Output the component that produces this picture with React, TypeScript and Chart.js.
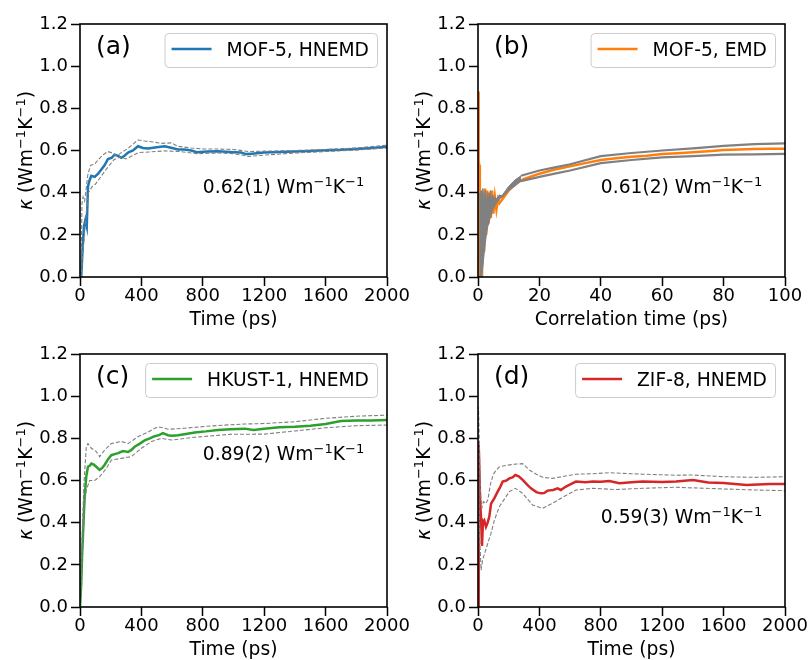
import React, { useEffect, useRef } from "react";
import { Chart, registerables } from "chart.js";

Chart.register(...registerables);

const FAMILY = "'DejaVu Sans', 'Liberation Sans', sans-serif";
const TEXT_SIZE = 18.7;
const TICK_SIZE = 18;
const LABEL_SIZE = 25;

// ---------- Panel (a): MOF-5, HNEMD ----------
const aMainX = [0, 8, 18, 26, 35, 44, 52, 63, 74, 96, 118, 139, 160, 182, 205, 226, 248, 269, 290, 313, 345, 378, 410, 443, 500, 552, 600, 638, 680, 725, 760, 830, 899, 1000, 1050, 1080, 1120, 1200, 1300, 1400, 1500, 1600, 1700, 1800, 1900, 2000];
const aMainY = [0, 0.0, 0.15, 0.24, 0.27, 0.24, 0.43, 0.46, 0.48, 0.475, 0.49, 0.51, 0.53, 0.56, 0.565, 0.58, 0.575, 0.565, 0.575, 0.59, 0.6, 0.62, 0.612, 0.61, 0.615, 0.62, 0.612, 0.605, 0.605, 0.6, 0.592, 0.595, 0.597, 0.592, 0.59, 0.583, 0.585, 0.59, 0.593, 0.595, 0.598, 0.601, 0.603, 0.607, 0.612, 0.618];
const aUpX = [0, 8, 13, 20, 30, 40, 52, 70, 96, 117, 150, 182, 204, 239, 269, 313, 345, 378, 421, 480, 530, 595, 638, 725, 812, 900, 1000, 1100, 1200, 1400, 1600, 1800, 2000];
const aUpY = [0, 0.1, 0.35, 0.38, 0.36, 0.42, 0.49, 0.53, 0.535, 0.555, 0.58, 0.595, 0.59, 0.574, 0.59, 0.61, 0.63, 0.65, 0.645, 0.64, 0.634, 0.636, 0.62, 0.612, 0.607, 0.607, 0.605, 0.595, 0.597, 0.6, 0.605, 0.612, 0.625];
const aLoX = [0, 8, 15, 26, 40, 55, 80, 100, 140, 180, 220, 260, 300, 340, 380, 450, 550, 650, 760, 900, 1000, 1100, 1200, 1400, 1600, 1800, 2000];
const aLoY = [0, 0.0, 0.1, 0.17, 0.3, 0.4, 0.43, 0.44, 0.48, 0.52, 0.555, 0.57, 0.56, 0.575, 0.59, 0.593, 0.598, 0.595, 0.585, 0.588, 0.585, 0.572, 0.578, 0.588, 0.595, 0.602, 0.612];

// ---------- Panel (b): MOF-5, EMD ----------
const bMainX = [0, 0.1, 0.2, 0.3, 0.45, 0.6, 0.8, 1.0, 1.3, 1.6, 2.0, 2.3, 2.7, 3.0, 3.4, 3.8, 4.2, 4.6, 5.0, 5.5, 6.0, 6.5, 7.0, 8.0, 9.0, 10, 12, 15, 20, 25, 30, 35, 40, 45, 50, 55, 60, 65, 70, 75, 80, 85, 90, 95, 100];
const bMainY = [0, 0.6, 0.88, 0.55, 0.53, 0.25, 0.4, 0.1, 0.0, 0.3, 0.12, 0.42, 0.2, 0.41, 0.25, 0.4, 0.28, 0.41, 0.3, 0.38, 0.32, 0.37, 0.35, 0.37, 0.39, 0.41, 0.44, 0.465, 0.49, 0.51, 0.525, 0.54, 0.555, 0.563, 0.57, 0.575, 0.583, 0.587, 0.592, 0.597, 0.602, 0.605, 0.607, 0.608, 0.608];
const bBandX = [0.4, 0.7, 1.0, 1.3, 1.6, 2.0, 2.4, 2.8, 3.2, 3.6, 4.0, 4.4, 4.8, 5.2, 5.6, 6.0, 6.5, 7.0, 7.5, 8.0, 9.0, 10, 12, 14];
const bBandHi = [0.4, 0.36, 0.41, 0.34, 0.42, 0.36, 0.41, 0.35, 0.4, 0.36, 0.41, 0.37, 0.39, 0.36, 0.38, 0.37, 0.38, 0.39, 0.385, 0.39, 0.41, 0.43, 0.46, 0.48];
const bBandLo = [0.0, 0.0, 0.0, 0.0, 0.05, 0.11, 0.16, 0.21, 0.24, 0.26, 0.28, 0.3, 0.32, 0.33, 0.34, 0.35, 0.36, 0.37, 0.375, 0.38, 0.395, 0.41, 0.43, 0.455];
const bSideX = [14, 20, 25, 30, 40, 50, 60, 70, 80, 90, 100];
const bUpY = [0.48, 0.505, 0.52, 0.535, 0.573, 0.588, 0.6, 0.61, 0.622, 0.63, 0.634];
const bLoY = [0.455, 0.475, 0.49, 0.505, 0.54, 0.555, 0.567, 0.573, 0.58, 0.582, 0.584];

// ---------- Panel (c): HKUST-1, HNEMD ----------
const cMainX = [0, 8, 14, 20, 30, 41, 52, 63, 74, 90, 106, 128, 145, 161, 182, 204, 226, 248, 280, 313, 335, 356, 390, 421, 455, 486, 515, 540, 573, 600, 638, 700, 747, 820, 899, 980, 1073, 1130, 1200, 1300, 1400, 1500, 1600, 1700, 1800, 1900, 2000];
const cMainY = [0, 0.11, 0.25, 0.35, 0.52, 0.62, 0.665, 0.67, 0.68, 0.675, 0.665, 0.65, 0.66, 0.675, 0.7, 0.72, 0.725, 0.73, 0.74, 0.735, 0.745, 0.76, 0.775, 0.79, 0.8, 0.81, 0.815, 0.825, 0.815, 0.812, 0.815, 0.822, 0.828, 0.833, 0.84, 0.843, 0.846, 0.84, 0.845, 0.852, 0.855, 0.86, 0.868, 0.882, 0.884, 0.885, 0.887];
const cUpX = [0, 8, 13, 26, 41, 52, 74, 106, 128, 161, 204, 269, 313, 378, 443, 508, 540, 573, 682, 856, 1073, 1200, 1400, 1600, 1800, 2000];
const cUpY = [0, 0.15, 0.32, 0.59, 0.76, 0.775, 0.753, 0.737, 0.713, 0.745, 0.775, 0.785, 0.775, 0.808, 0.83, 0.855, 0.85, 0.843, 0.848, 0.859, 0.868, 0.87, 0.879, 0.895, 0.905, 0.91];
const cLoX = [0, 8, 13, 26, 41, 63, 96, 128, 172, 204, 269, 334, 400, 465, 530, 595, 747, 977, 1200, 1400, 1600, 1800, 2000];
const cLoY = [0, 0.08, 0.24, 0.46, 0.555, 0.6, 0.6, 0.618, 0.658, 0.697, 0.705, 0.713, 0.753, 0.785, 0.8, 0.792, 0.805, 0.819, 0.82, 0.835, 0.85, 0.86, 0.863];

// ---------- Panel (d): ZIF-8, HNEMD ----------
const dMainX = [0, 3, 6, 10, 14, 20, 26, 32, 41, 52, 63, 74, 85, 106, 128, 145, 161, 185, 204, 225, 243, 265, 291, 320, 345, 380, 410, 430, 453, 490, 518, 540, 570, 595, 638, 700, 747, 800, 856, 921, 1000, 1073, 1200, 1290, 1400, 1500, 1600, 1750, 1900, 2000];
const dMainY = [0, 0.55, 0.77, 0.62, 0.5, 0.42, 0.29, 0.4, 0.41, 0.38, 0.4, 0.43, 0.49, 0.515, 0.547, 0.57, 0.595, 0.6, 0.61, 0.615, 0.626, 0.62, 0.603, 0.58, 0.563, 0.545, 0.539, 0.54, 0.552, 0.555, 0.563, 0.555, 0.57, 0.579, 0.595, 0.592, 0.595, 0.594, 0.598, 0.587, 0.592, 0.595, 0.593, 0.595, 0.602, 0.59, 0.588, 0.579, 0.583, 0.583];
const dUpX = [0, 3, 8, 15, 25, 35, 50, 65, 80, 100, 120, 139, 204, 250, 291, 334, 380, 421, 486, 560, 638, 750, 856, 1000, 1073, 1290, 1400, 1600, 1800, 2000];
const dUpY = [0, 0.95, 0.8, 0.55, 0.47, 0.5, 0.49, 0.51, 0.58, 0.63, 0.65, 0.665, 0.674, 0.678, 0.68, 0.65, 0.63, 0.615, 0.61, 0.62, 0.63, 0.632, 0.637, 0.632, 0.63, 0.625, 0.626, 0.618, 0.615, 0.618];
const dLoX = [0, 4, 10, 20, 30, 63, 85, 106, 139, 204, 243, 291, 356, 421, 486, 551, 638, 747, 899, 1073, 1290, 1400, 1600, 1800, 2000];
const dLoY = [0, 0.6, 0.35, 0.175, 0.223, 0.3, 0.35, 0.41, 0.476, 0.547, 0.563, 0.539, 0.484, 0.468, 0.492, 0.52, 0.555, 0.563, 0.557, 0.563, 0.568, 0.565, 0.56, 0.555, 0.552];

// ---------- Axis settings & text ----------
const yTicks = [0, 0.2, 0.4, 0.6, 0.8, 1.0, 1.2];
const timeTicks = [0, 400, 800, 1200, 1600, 2000];
const corrTicks = [0, 20, 40, 60, 80, 100];
const panelLabels = ["(a)", "(b)", "(c)", "(d)"];
const legendLabels = ["MOF-5, HNEMD", "MOF-5, EMD", "HKUST-1, HNEMD", "ZIF-8, HNEMD"];
const kappaValues = ["0.62(1)", "0.61(2)", "0.89(2)", "0.59(3)"];
const xTitles = ["Time (ps)", "Correlation time (ps)", "Time (ps)", "Time (ps)"];

const BLUE = "#1f77b4";
const ORANGE = "#ff7f0e";
const GREEN = "#2ca02c";
const RED = "#d62728";
const GRAY = "#808080";

type Seg = { t: string; sup?: boolean; it?: boolean };

function pts(xs: number[], ys: number[]) {
  return xs.map((x, i) => ({ x, y: ys[i] }));
}

function segFont(s: Seg, size: number) {
  return `${s.it ? "italic " : ""}${s.sup ? size * 0.7 : size}px ${FAMILY}`;
}
function richWidth(ctx: CanvasRenderingContext2D, segs: Seg[], size: number) {
  let w = 0;
  for (const s of segs) {
    ctx.font = segFont(s, size);
    w += ctx.measureText(s.t).width;
  }
  return w;
}
function drawRich(ctx: CanvasRenderingContext2D, segs: Seg[], x: number, y: number, size: number) {
  let cx = x;
  ctx.textAlign = "left";
  ctx.textBaseline = "alphabetic";
  for (const s of segs) {
    ctx.font = segFont(s, size);
    ctx.fillText(s.t, cx, s.sup ? y - size * 0.39 : y);
    cx += ctx.measureText(s.t).width;
  }
}

const unitSegs: Seg[] = [{ t: "Wm" }, { t: "\u22121", sup: true }, { t: "K" }, { t: "\u22121", sup: true }];
const yTitleSegs: Seg[] = [{ t: "\u03ba", it: true }, { t: " (Wm" }, { t: "\u22121", sup: true }, { t: "K" }, { t: "\u22121", sup: true }, { t: ")" }];

type Spec = {
  idx: number;
  xMax: number;
  xTicks: number[];
  color: string;
  annotBase: number;
  datasets: any[];
  padRight: number;
};

function makeDeco(spec: Spec) {
  return {
    id: "deco" + spec.idx,
    afterDraw(chart: any) {
      const ctx: CanvasRenderingContext2D = chart.ctx;
      const ca = chart.chartArea;
      ctx.save();
      // frame
      ctx.strokeStyle = "#000";
      ctx.lineWidth = 1.6;
      ctx.strokeRect(ca.left, ca.top, ca.right - ca.left, ca.bottom - ca.top);
      ctx.fillStyle = "#000";
      // panel label
      ctx.font = `${LABEL_SIZE}px ${FAMILY}`;
      ctx.textAlign = "left";
      ctx.textBaseline = "alphabetic";
      ctx.fillText(panelLabels[spec.idx], ca.left + 16, ca.top + 30);
      // legend
      ctx.font = `${TEXT_SIZE}px ${FAMILY}`;
      const tw = ctx.measureText(legendLabels[spec.idx]).width;
      const w = 7 + 40 + 15 + tw + 8;
      const h = 34;
      const x1 = ca.right - 10 - w;
      const y1 = ca.top + 9;
      ctx.beginPath();
      (ctx as any).roundRect(x1 + 0.5, y1 + 0.5, w, h, 4);
      ctx.fillStyle = "rgba(255,255,255,0.8)";
      ctx.fill();
      ctx.strokeStyle = "#cccccc";
      ctx.lineWidth = 1;
      ctx.stroke();
      ctx.beginPath();
      ctx.moveTo(x1 + 7, y1 + 16);
      ctx.lineTo(x1 + 47, y1 + 16);
      ctx.strokeStyle = spec.color;
      ctx.lineWidth = 2.5;
      ctx.stroke();
      ctx.fillStyle = "#000";
      ctx.fillText(legendLabels[spec.idx], x1 + 62, y1 + 22.5);
      // annotation
      const annot: Seg[] = [{ t: kappaValues[spec.idx] + " " }, ...unitSegs];
      const ax = ca.left + 0.4 * (ca.right - ca.left);
      drawRich(ctx, annot, ax, ca.bottom - spec.annotBase, TEXT_SIZE);
      // x title
      ctx.font = `${TEXT_SIZE}px ${FAMILY}`;
      ctx.textAlign = "center";
      ctx.fillText(xTitles[spec.idx], (ca.left + ca.right) / 2, ca.bottom + 48);
      // y title
      const yw = richWidth(ctx, yTitleSegs, TEXT_SIZE);
      ctx.translate(ca.left - 48, (ca.top + ca.bottom) / 2);
      ctx.rotate(-Math.PI / 2);
      drawRich(ctx, yTitleSegs, -yw / 2, 0, TEXT_SIZE);
      ctx.restore();
    },
  };
}

function mainLine(data: any[], color: string) {
  return { data, borderColor: color, borderWidth: 2.5, pointRadius: 0, fill: false };
}
function dashLine(data: any[]) {
  return { data, borderColor: GRAY, borderWidth: 1.1, borderDash: [4, 2], pointRadius: 0, fill: false };
}
function grayLine(data: any[]) {
  return { data, borderColor: GRAY, borderWidth: 2.2, pointRadius: 0, fill: false };
}

function makeConfig(spec: Spec) {
  return {
    type: "line",
    data: { datasets: spec.datasets },
    options: {
      animation: false,
      responsive: false,
      maintainAspectRatio: false,
      events: [],
      layout: { padding: { top: 24, right: spec.padRight, left: 0, bottom: 0 } },
      plugins: { legend: { display: false }, tooltip: { enabled: false } },
      elements: { line: { tension: 0 }, point: { radius: 0 } },
      scales: {
        x: {
          type: "linear",
          min: 0,
          max: spec.xMax,
          afterBuildTicks: (s: any) => {
            s.ticks = spec.xTicks.map((v) => ({ value: v }));
          },
          afterFit: (s: any) => {
            s.height = 53;
          },
          ticks: {
            color: "#000",
            font: { family: FAMILY, size: TICK_SIZE },
            padding: 0,
            maxRotation: 0,
            autoSkip: false,
            callback: (v: any) => String(v),
          },
          grid: { drawOnChartArea: false, drawTicks: true, tickLength: 9, tickWidth: 1.5, tickColor: "#000" },
          border: { display: false },
        },
        y: {
          type: "linear",
          min: 0,
          max: 1.2,
          afterBuildTicks: (s: any) => {
            s.ticks = yTicks.map((v) => ({ value: v }));
          },
          afterFit: (s: any) => {
            s.width = 80;
          },
          ticks: {
            color: "#000",
            font: { family: FAMILY, size: TICK_SIZE },
            padding: 3,
            autoSkip: false,
            callback: (v: any) => Number(v).toFixed(1),
          },
          grid: { drawOnChartArea: false, drawTicks: true, tickLength: 9, tickWidth: 1.5, tickColor: "#000" },
          border: { display: false },
        },
      },
    },
    plugins: [makeDeco(spec)],
  };
}

const specs: Spec[] = [
  {
    idx: 0,
    xMax: 2000,
    xTicks: timeTicks,
    color: BLUE,
    annotBase: 84,
    padRight: 33,
    datasets: [dashLine(pts(aUpX, aUpY)), dashLine(pts(aLoX, aLoY)), mainLine(pts(aMainX, aMainY), BLUE)],
  },
  {
    idx: 1,
    xMax: 100,
    xTicks: corrTicks,
    color: ORANGE,
    annotBase: 84,
    padRight: 24,
    datasets: [
      { data: pts(bBandX, bBandLo), borderColor: GRAY, borderWidth: 1, pointRadius: 0, fill: false },
      { data: pts(bBandX, bBandHi), borderColor: GRAY, borderWidth: 1, pointRadius: 0, fill: 0, backgroundColor: GRAY },
      grayLine(pts(bSideX, bUpY)),
      grayLine(pts(bSideX, bLoY)),
      mainLine(pts(bMainX, bMainY), ORANGE),
    ],
  },
  {
    idx: 2,
    xMax: 2000,
    xTicks: timeTicks,
    color: GREEN,
    annotBase: 147,
    padRight: 33,
    datasets: [dashLine(pts(cUpX, cUpY)), dashLine(pts(cLoX, cLoY)), mainLine(pts(cMainX, cMainY), GREEN)],
  },
  {
    idx: 3,
    xMax: 2000,
    xTicks: timeTicks,
    color: RED,
    annotBase: 84,
    padRight: 24,
    datasets: [dashLine(pts(dUpX, dUpY)), dashLine(pts(dLoX, dLoY)), mainLine(pts(dMainX, dMainY), RED)],
  },
];

const boxes = [
  { left: 0, top: 0, width: 420, height: 330 },
  { left: 398, top: 0, width: 411, height: 330 },
  { left: 0, top: 330, width: 420, height: 330 },
  { left: 398, top: 330, width: 411, height: 330 },
];

function Panel({ spec, box }: { spec: Spec; box: any }) {
  const ref = useRef<HTMLCanvasElement>(null);
  useEffect(() => {
    if (!ref.current) return;
    const chart = new Chart(ref.current, makeConfig(spec) as any);
    return () => chart.destroy();
  }, []);
  return (
    <canvas
      ref={ref}
      width={box.width}
      height={box.height}
      style={{ position: "absolute", left: box.left, top: box.top, width: box.width, height: box.height }}
    />
  );
}

export default function App() {
  return (
    <div style={{ position: "absolute", left: 0, top: 0, width: 809, height: 660, background: "#fff" }}>
      {specs.map((s, i) => (
        <Panel key={i} spec={s} box={boxes[i]} />
      ))}
    </div>
  );
}
